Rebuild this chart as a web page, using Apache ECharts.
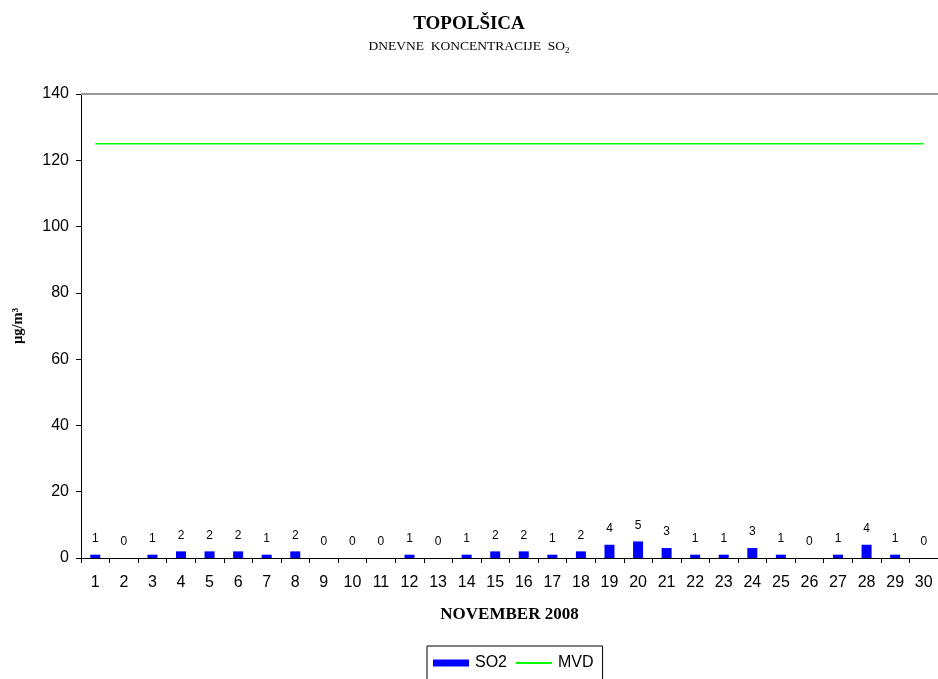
<!DOCTYPE html>
<html>
<head>
<meta charset="utf-8">
<script src="https://cdn.jsdelivr.net/npm/echarts@6/dist/echarts.min.js"></script>
<style>
  html, body { margin: 0; padding: 0; background: #fff; }
  #chart { width: 938px; height: 679px; }
</style>
</head>
<body>
<div id="chart"></div>
<script>
// Days of November 2008
const days = ['1','2','3','4','5','6','7','8','9','10','11','12','13','14','15',
              '16','17','18','19','20','21','22','23','24','25','26','27','28','29','30'];
// Daily SO2 concentration (µg/m³)
const so2 = [1,0,1,2,2,2,1,2,0,0,0,1,0,1,2,2,1,2,4,5,3,1,1,3,1,0,1,4,1,0];
// Daily limit value (MVD)
const mvd = [125,125,125,125,125,125,125,125,125,125,125,125,125,125,125,
             125,125,125,125,125,125,125,125,125,125,125,125,125,125,125];
// Y axis scale
const yMin = 0, yMax = 140, yStep = 20;

const chart = echarts.init(document.getElementById('chart'), null, { renderer: 'canvas' });

chart.setOption({
  animation: false,
  backgroundColor: '#ffffff',
  title: [
    {
      text: 'TOPOLŠICA',
      left: 'center',
      top: 10,
      textStyle: { fontFamily: 'Liberation Serif', fontSize: 19, fontWeight: 'bold', color: '#000' }
    },
    {
      text: '{a|DNEVNE  KONCENTRACIJE  SO}{s|2}',
      left: 'center',
      top: 32,
      textStyle: {
        fontWeight: 'normal',
        rich: {
          a: { fontFamily: 'Liberation Serif', fontSize: 13.5, fontWeight: 'normal', color: '#000' },
          s: { fontFamily: 'Liberation Serif', fontSize: 9, fontWeight: 'normal', color: '#000', padding: [9, 0, 0, 0] }
        }
      }
    }
  ],
  legend: {
    top: 646,
    left: 427,
    itemGap: 8,
    padding: [9, 9, 20, 6],
    borderColor: '#000',
    borderWidth: 1,
    textStyle: { fontFamily: 'Liberation Sans', fontSize: 16, color: '#000', padding: [0, 0, 0, 1] },
    data: [
      { name: 'SO2', icon: 'rect', itemStyle: { color: '#0000ff' } },
      { name: 'MVD', itemStyle: { opacity: 0 } }
    ],
    itemWidth: 36,
    itemHeight: 7
  },
  grid: {
    left: 81,
    width: 862,
    top: 94,
    height: 464,
    show: false
  },
  xAxis: {
    type: 'category',
    data: days,
    boundaryGap: true,
    name: 'NOVEMBER 2008',
    nameLocation: 'middle',
    nameGap: 48,
    nameTextStyle: { fontFamily: 'Liberation Serif', fontSize: 17, fontWeight: 'bold', color: '#000' },
    axisLine: { lineStyle: { color: '#000', width: 1 } },
    axisTick: { show: true, length: 5, lineStyle: { color: '#000' } },
    axisLabel: { fontFamily: 'Liberation Sans', fontSize: 16, color: '#000', margin: 17, interval: 0 }
  },
  yAxis: {
    type: 'value',
    min: yMin,
    max: yMax,
    interval: yStep,
    name: 'µg/m³',
    nameLocation: 'middle',
    nameRotate: 90,
    nameGap: 55,
    nameTextStyle: { fontFamily: 'Liberation Serif', fontSize: 14.5, fontWeight: 'bold', color: '#000' },
    axisLine: { show: true, lineStyle: { color: '#000', width: 1 } },
    axisTick: { show: true, length: 5, lineStyle: { color: '#000' } },
    axisLabel: { fontFamily: 'Liberation Sans', fontSize: 16, color: '#000', margin: 12 },
    splitLine: { show: false }
  },
  series: [
    {
      name: 'SO2',
      type: 'bar',
      data: so2,
      barWidth: 10,
      itemStyle: { color: '#0000ff' },
      label: {
        show: true,
        position: 'top',
        distance: 10,
        fontFamily: 'Liberation Sans',
        fontSize: 12,
        color: '#000'
      }
    },
    {
      name: 'MVD',
      type: 'line',
      data: mvd,
      symbol: 'none',
      lineStyle: { color: '#00ff00', width: 1.5 },
      itemStyle: { color: '#00ff00' },
      // plot-area top edge
      markLine: {
        silent: true,
        symbol: 'none',
        label: { show: false },
        lineStyle: { color: '#999999', width: 2, type: 'solid' },
        data: [{ yAxis: yMax }]
      }
    }
  ]
});
</script>
</body>
</html>
